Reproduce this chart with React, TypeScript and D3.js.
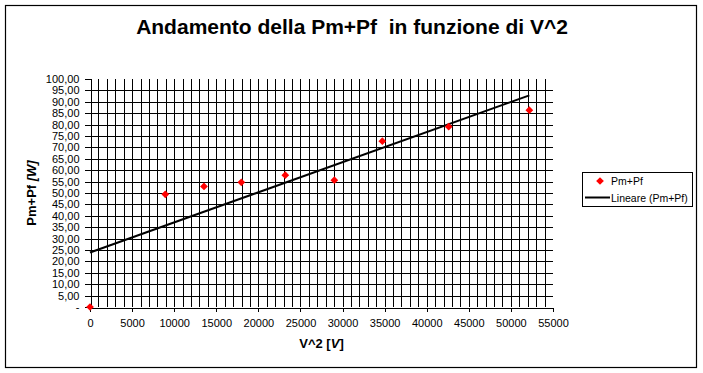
import React, { useEffect, useRef } from 'react';
import * as d3 from 'd3';

// values
const vSquared = [0, 8945, 13540, 17975, 23200, 29025, 34725, 42610, 52190];
const pmPf = [0, 49.4, 52.9, 54.7, 57.8, 55.6, 72.7, 79.1, 86.3];
const xTicks = [0, 5000, 10000, 15000, 20000, 25000, 30000, 35000, 40000, 45000, 50000, 55000];
const yTicks = [0, 5, 10, 15, 20, 25, 30, 35, 40, 45, 50, 55, 60, 65, 70, 75, 80, 85, 90, 95, 100];
const legendLabels = ['Pm+Pf', 'Lineare (Pm+Pf)'];

const FONT = '"Liberation Sans", Arial, sans-serif';

export default function App() {
  const ref = useRef<SVGSVGElement>(null);

  useEffect(() => {
    const svg = d3.select(ref.current);
    svg.selectAll('*').remove();

    const plot = { left: 90, right: 553, top: 79, bottom: 307 };

    const x = d3.scaleLinear().domain([0, 55000]).range([plot.left, plot.right]);
    const y = d3.scaleLinear().domain([0, 100]).range([plot.bottom, plot.top]);

    // outer border
    svg.append('rect')
      .attr('x', 5.5).attr('y', 5.5)
      .attr('width', 691).attr('height', 362)
      .attr('fill', 'white')
      .attr('stroke', 'black')
      .attr('stroke-width', 1.2);

    // title
    svg.append('text')
      .attr('x', 352).attr('y', 34)
      .attr('text-anchor', 'middle')
      .style('font-family', FONT)
      .style('font-weight', 'bold')
      .style('font-size', '21px')
      .style('white-space', 'pre')
      .text('Andamento della Pm+Pf  in funzione di V^2');

    const chart = svg.append('g').attr('shape-rendering', 'crispEdges');

    // ---- gridlines
    const vGrid = d3.range(1000, 55000, 1000);
    chart.selectAll('line.vg')
      .data(vGrid)
      .enter()
      .append('line')
      .attr('x1', d => Math.round(x(d)) + 0.5)
      .attr('x2', d => Math.round(x(d)) + 0.5)
      .attr('y1', plot.top)
      .attr('y2', plot.bottom)
      .attr('stroke', 'black');

    const hGrid = yTicks.filter(d => d > 0 && d < 100);
    chart.selectAll('line.hg')
      .data(hGrid)
      .enter()
      .append('line')
      .attr('x1', plot.left)
      .attr('x2', plot.right)
      .attr('y1', d => Math.round(y(d)) + 0.5)
      .attr('y2', d => Math.round(y(d)) + 0.5)
      .attr('stroke', 'black');

    // ---- axes
    const xAxis = d3.axisBottom(x)
      .tickValues(xTicks)
      .tickSize(4)
      .tickPadding(8)
      .tickFormat(d => String(d));

    const yAxis = d3.axisLeft(y)
      .tickValues(yTicks)
      .tickSize(6)
      .tickPadding(5)
      .tickFormat(d => (+d === 0 ? '-' : d3.format('.2f')(+d).replace('.', ',')));

    const gx = chart.append('g')
      .attr('transform', 'translate(0,' + (plot.bottom + 0.5) + ')')
      .call(xAxis);
    const gy = chart.append('g')
      .attr('transform', 'translate(' + (plot.left + 0.5) + ',0)')
      .call(yAxis);

    [gx, gy].forEach(g => {
      g.select('.domain').attr('stroke', 'black');
      g.selectAll('.tick line').attr('stroke', 'black');
      g.selectAll('.tick text')
        .attr('fill', 'black')
        .style('font-family', FONT)
        .style('font-size', '11px');
    });

    // ---- trendline (least squares)
    const mx = d3.mean(vSquared) as number;
    const my = d3.mean(pmPf) as number;
    const slope = d3.sum(vSquared, (v, i) => (v - mx) * (pmPf[i] - my)) /
      d3.sum(vSquared, v => (v - mx) * (v - mx));
    const intercept = my - slope * mx;
    const xEnd = d3.max(vSquared) as number;

    const line = d3.line<number>()
      .x(d => x(d))
      .y(d => y(intercept + slope * d));

    svg.append('path')
      .datum([0, xEnd])
      .attr('d', line)
      .attr('fill', 'none')
      .attr('stroke', 'black')
      .attr('stroke-width', 2);

    // ---- points
    const diamond = d3.symbol(d3.symbolSquare, 30);
    svg.selectAll('path.pt')
      .data(vSquared)
      .enter()
      .append('path')
      .attr('d', diamond)
      .attr('transform', (d, i) => 'translate(' + x(d) + ',' + y(pmPf[i]) + ') rotate(45)')
      .attr('fill', '#ff0000');

    // ---- axis titles
    svg.append('text')
      .attr('transform', 'translate(36,' + ((plot.top + plot.bottom) / 2) + ') rotate(-90)')
      .attr('text-anchor', 'middle')
      .style('font-family', FONT)
      .style('font-weight', 'bold')
      .style('font-size', '13px')
      .call(t => {
        t.append('tspan').text('Pm+Pf ');
        t.append('tspan').style('font-style', 'italic').text('[W]');
      });

    svg.append('text')
      .attr('x', (plot.left + plot.right) / 2)
      .attr('y', 348)
      .attr('text-anchor', 'middle')
      .style('font-family', FONT)
      .style('font-weight', 'bold')
      .style('font-size', '13px')
      .call(t => {
        t.append('tspan').text('V^2 [');
        t.append('tspan').style('font-style', 'italic').text('V');
        t.append('tspan').text(']');
      });

    // ---- legend
    const legend = svg.append('g');
    legend.append('rect')
      .attr('x', 582.5).attr('y', 172.5)
      .attr('width', 110).attr('height', 34)
      .attr('fill', 'white')
      .attr('stroke', 'black')
      .attr('shape-rendering', 'crispEdges');

    legend.append('path')
      .attr('d', diamond)
      .attr('transform', 'translate(600,181) rotate(45)')
      .attr('fill', '#ff0000');

    legend.append('line')
      .attr('x1', 585).attr('x2', 610)
      .attr('y1', 197.5).attr('y2', 197.5)
      .attr('stroke', 'black')
      .attr('stroke-width', 2);

    legend.selectAll('text')
      .data(legendLabels)
      .enter()
      .append('text')
      .attr('x', 611)
      .attr('y', (d, i) => 185 + i * 16.5)
      .style('font-family', FONT)
      .style('font-size', '10.5px')
      .text(d => d);
  }, []);

  return (
    <svg
      ref={ref}
      width={703}
      height={373}
      style={{ position: 'absolute', left: 0, top: 0, background: 'white' }}
    />
  );
}
